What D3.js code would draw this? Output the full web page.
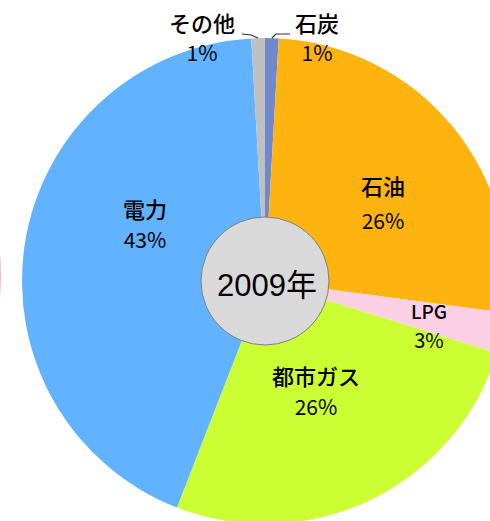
<!DOCTYPE html>
<html><head><meta charset="utf-8">
<script src="https://cdn.jsdelivr.net/npm/d3@7"></script>
<style>
html,body{margin:0;padding:0;background:#fff;}
svg{display:block;}
text{font-family:"Noto Sans CJK JP","Noto Sans",sans-serif;fill:#000;}
</style></head>
<body>
<svg id="chart" width="490" height="521"></svg>
<script>
const categories = ["石炭","石油","LPG","都市ガス","電力","その他"];
const values = [0.9, 26.2, 2.7, 26.1, 43.2, 0.9];
const percentLabels = ["1%","26%","3%","26%","43%","1%"];
const colors = ["#7189CC","#FFB30F","#FBD0E5","#CCFF33","#61B3FF","#BFBFBF"];
const centerTitle = "2009年";

const svg = d3.select("#chart");
const cx = 265, cy = 281, R = 243, rHole = 64;

// partial neighbouring shape at left edge
svg.append("circle").attr("cx", -242).attr("cy", 275).attr("r", 243)
  .attr("fill", "#F9B6DA");

const g = svg.append("g").attr("transform", `translate(${cx},${cy})`);
const pie = d3.pie().sort(null).value(d => d).startAngle(0).endAngle(2*Math.PI);
const arcs = pie(values);
const arc = d3.arc().innerRadius(0).outerRadius(R);

g.selectAll("path.slice").data(arcs).enter().append("path")
  .attr("class","slice")
  .attr("d", arc)
  .attr("fill", (d,i) => colors[i]);

// label positions (relative to centre) for each slice
const labelPos = [
  {x: 52, y1: -249, y2: -220},   // 石炭
  {x: 118, y1: -86, y2: -52},    // 石油
  {x: 164, y1: 38, y2: 67},      // LPG
  {x: 51, y1: 104, y2: 134},     // 都市ガス
  {x: -120, y1: -63, y2: -33},   // 電力
  {x: -63, y1: -249, y2: -220}   // その他
];
const lab = g.selectAll("g.lab").data(arcs).enter().append("g").attr("class","lab");
lab.append("text").attr("x",(d,i)=>labelPos[i].x).attr("y",(d,i)=>labelPos[i].y1)
  .attr("text-anchor","middle").attr("font-size",(d,i)=> i===2 ? 19 : 22)
  .attr("font-weight", 500)
  .text((d,i)=>categories[i]);
lab.append("text").attr("x",(d,i)=>labelPos[i].x).attr("y",(d,i)=>labelPos[i].y2)
  .attr("text-anchor","middle").attr("font-size",(d,i)=> i===2 ? 20 : 21)
  .attr("font-weight", 400)
  .text((d,i)=>percentLabels[i]);

// leader lines for small slices
const line = d3.line();
[[[-23,-247],[-14,-246],[-7,-243]],[[7,-243],[11,-247],[25,-247]]].forEach(pts=>{
  g.append("path").attr("d", line(pts)).attr("fill","none")
    .attr("stroke","#333").attr("stroke-width",1.2);
});

// centre circle
g.append("circle").attr("r", rHole).attr("fill","#D9D9D9")
  .attr("stroke","#7F7F7F").attr("stroke-width",1);
g.append("text").attr("x", 2).attr("y", 15).attr("text-anchor","middle")
  .attr("font-size", 31)
  .style("font-family", '"Liberation Sans","Noto Sans CJK JP",sans-serif')
  .text(centerTitle);
</script>
</body></html>
